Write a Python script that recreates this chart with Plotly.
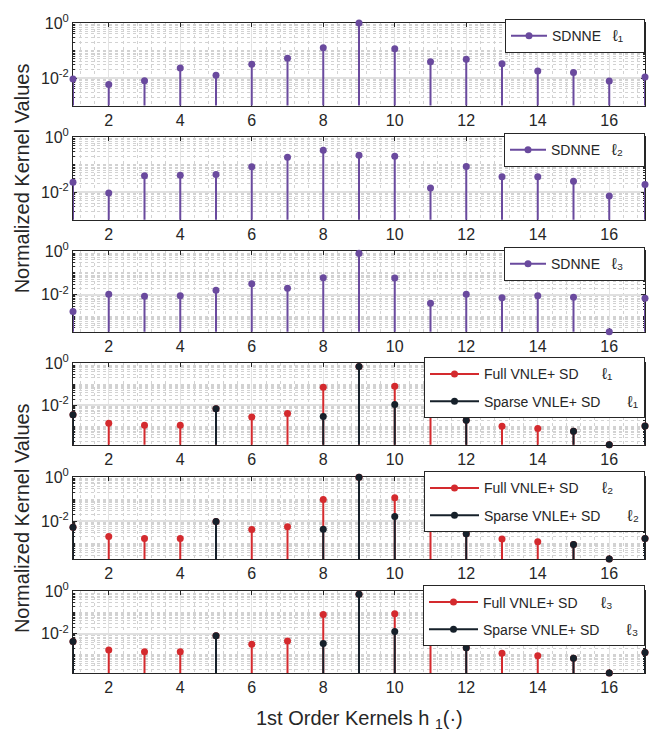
import numpy as np
import plotly.graph_objects as go

# ---- data -------------------------------------------------------------
kernel_idx = list(range(1, 18))
x_ticks = [2, 4, 6, 8, 10, 12, 14, 16]
y_ticks = [0.01, 1.0]
y_tick_text = ["10<sup>-2</sup>", "10<sup>0</sup>"]

sdnne_l1 = [0.0093, 0.0058, 0.008, 0.023, 0.0125, 0.032, 0.052, 0.125, 1.0,
            0.115, 0.039, 0.048, 0.033, 0.018, 0.016, 0.0078, 0.011]
sdnne_l2 = [0.023, 0.0092, 0.039, 0.041, 0.044, 0.083, 0.186, 0.33, 0.22,
            0.20, 0.014, 0.086, 0.036, 0.036, 0.025, 0.0072, 0.019]
sdnne_l3 = [0.0017, 0.0104, 0.0084, 0.009, 0.016, 0.032, 0.020, 0.060, 0.79,
            0.059, 0.0041, 0.0104, 0.0073, 0.009, 0.0076, 0.0002, 0.0068]

full_l1 = [0.0036, 0.00144, 0.00115, 0.00115, 0.0069, 0.0028, 0.0041, 0.072, 0.70,
           0.081, 0.02, 0.0020, 0.00104, 0.00081, 0.0006, 0.000135, 0.00107]
sparse_l1 = [0.0036, 0, 0, 0, 0.0069, 0, 0, 0.0030, 0.70,
             0.011, 0, 0.0020, 0, 0, 0.0006, 0.000135, 0.00107]

full_l2 = [0.0054, 0.0021, 0.0017, 0.0017, 0.010, 0.0043, 0.0058, 0.098, 1.0,
           0.117, 0.025, 0.0028, 0.0016, 0.0012, 0.00089, 0.0002, 0.0017]
sparse_l2 = [0.0054, 0, 0, 0, 0.010, 0, 0, 0.0044, 1.0,
             0.0167, 0, 0.0028, 0, 0, 0.00089, 0.0002, 0.0017]

full_l3 = [0.0043, 0.0017, 0.0014, 0.0014, 0.0081, 0.0032, 0.0046, 0.080, 0.74,
           0.089, 0.02, 0.0022, 0.0012, 0.00092, 0.00069, 0.00014, 0.0013]
sparse_l3 = [0.0043, 0, 0, 0, 0.0081, 0, 0, 0.0035, 0.74,
             0.0128, 0, 0.0022, 0, 0, 0.00069, 0.00014, 0.0013]

# ---- styling ----------------------------------------------------------
PURPLE = "#6A4A9E"
RED = "#D42A2E"
BLACK = "#16202A"
TXT = "#262626"
FONT = "Liberation Sans, Arial, sans-serif"
SP = "\u00a0"


def ell(k):
    return '<span style="font-size:16px">ℓ' + k + "</span>"


W, H = 664, 733
ML, MR, MT, MB = 73, 19, 10, 60
PH = H - MT - MB
# panel top/bottom in page pixels
panels_px = [(12, 96), (128, 212), (244, 326), (358, 441), (474, 557), (590, 673)]


def dom(top, bot):
    return [(H - MB - bot) / PH, (H - MB - top) / PH]


panels = [
    [("SDNNE" + SP * 3 + ell("₁") + SP * 4, sdnne_l1, PURPLE)],
    [("SDNNE" + SP * 3 + ell("₂") + SP * 4, sdnne_l2, PURPLE)],
    [("SDNNE" + SP * 3 + ell("₃") + SP * 4, sdnne_l3, PURPLE)],
    [("Full VNLE+ SD" + SP * 6 + ell("₁"), full_l1, RED),
     ("Sparse VNLE+ SD" + SP * 7 + ell("₁"), sparse_l1, BLACK)],
    [("Full VNLE+ SD" + SP * 6 + ell("₂"), full_l2, RED),
     ("Sparse VNLE+ SD" + SP * 7 + ell("₂"), sparse_l2, BLACK)],
    [("Full VNLE+ SD" + SP * 6 + ell("₃"), full_l3, RED),
     ("Sparse VNLE+ SD" + SP * 7 + ell("₃"), sparse_l3, BLACK)],
]

fig = go.Figure()
layout = {}

for i, series in enumerate(panels):
    n = "" if i == 0 else str(i + 1)
    xa, ya, lg = "x" + n, "y" + n, "legend" + n
    lows = []
    for name, vals, col in series:
        xs, ys, mx, my = [], [], [], []
        for k, v in zip(kernel_idx, vals):
            if v > 0:
                xs += [k, k, None]
                ys += [1e-6, v, None]
                mx.append(k)
                my.append(v)
                lows.append(v)
        fig.add_trace(go.Scatter(x=xs, y=ys, mode="lines", xaxis=xa, yaxis=ya,
                                 line=dict(color=col, width=2), showlegend=False,
                                 hoverinfo="skip"))
        fig.add_trace(go.Scatter(x=mx, y=my, mode="markers", xaxis=xa, yaxis=ya,
                                 marker=dict(color=col, size=7), cliponaxis=False,
                                 showlegend=False))
        fig.add_trace(go.Scatter(x=[None], y=[None], mode="lines+markers", xaxis=xa,
                                 yaxis=ya, name=name, legend=lg, legendgroup=name,
                                 line=dict(color=col, width=2),
                                 marker=dict(color=col, size=7)))

    top, bot = panels_px[i]
    ylo = -3.0 if i < 2 else float(np.log10(min(lows)))
    layout["xaxis" + n] = dict(
        domain=[0, 1], anchor=ya, range=[1, 17], tickmode="array", tickvals=x_ticks,
        ticks="inside", ticklen=4, tickcolor=TXT, showline=True, linecolor=TXT,
        linewidth=1, mirror="ticks", showgrid=True, gridcolor="#e3e3e3", gridwidth=1,
        zeroline=False, layer="below traces",
        tickfont=dict(size=16, color=TXT, family=FONT),
        minor=dict(dtick=0.4, tick0=0, showgrid=True, gridcolor="#d2d2d2",
                   griddash="dot", gridwidth=1, ticks=""),
    )
    minor_vals = [m * 10.0 ** e for e in range(-5, 1) for m in range(1, 10)
                  if not (m == 1 and e in (-2, 0))]
    layout["yaxis" + n] = dict(
        domain=dom(top, bot), anchor=xa, type="log", range=[ylo, 0],
        tickmode="array", tickvals=y_ticks, ticktext=y_tick_text,
        ticks="inside", ticklen=4, tickcolor=TXT, showline=True, linecolor=TXT,
        linewidth=1, mirror="ticks", showgrid=True, gridcolor="#e0e0e0", gridwidth=1.5,
        zeroline=False, layer="below traces",
        tickfont=dict(size=16, color=TXT, family=FONT),
        minor=dict(tickmode="array", tickvals=minor_vals, showgrid=True,
                   gridcolor="#d2d2d2", griddash="dot", gridwidth=1,
                   ticks="inside", ticklen=2, tickcolor=TXT),
    )
    two = len(series) == 2
    off = -6 if two else -4
    layout[lg] = dict(
        x=1.0, xanchor="right", xref="paper",
        y=(H - MB - top - off) / PH, yanchor="top", yref="paper",
        bgcolor="white", bordercolor=TXT, borderwidth=1,
        font=dict(size=14, color=TXT, family=FONT),
        tracegroupgap=6 if two else 0, itemwidth=49 if two else 36,
    )

ann = []
for top, bot in (panels_px[1], panels_px[4]):
    ann.append(dict(text="Normalized Kernel Values", xref="paper", yref="paper",
                    x=(22 - ML) / (W - ML - MR), y=(H - MB - (top + bot) / 2) / PH,
                    xanchor="center", yanchor="middle", textangle=-90, showarrow=False,
                    font=dict(size=20, color=TXT, family=FONT)))
ann.append(dict(text="1st Order Kernels h <sub>1</sub>(·)", xref="paper", yref="paper",
                x=0.5, y=(H - MB - 720) / PH, xanchor="center", yanchor="middle",
                showarrow=False, font=dict(size=20, color=TXT, family=FONT)))

fig.update_layout(
    width=W, height=H, margin=dict(l=ML, r=MR, t=MT, b=MB),
    paper_bgcolor="white", plot_bgcolor="white",
    font=dict(family=FONT, color=TXT), annotations=ann, **layout,
)

fig.write_html("out.html")
